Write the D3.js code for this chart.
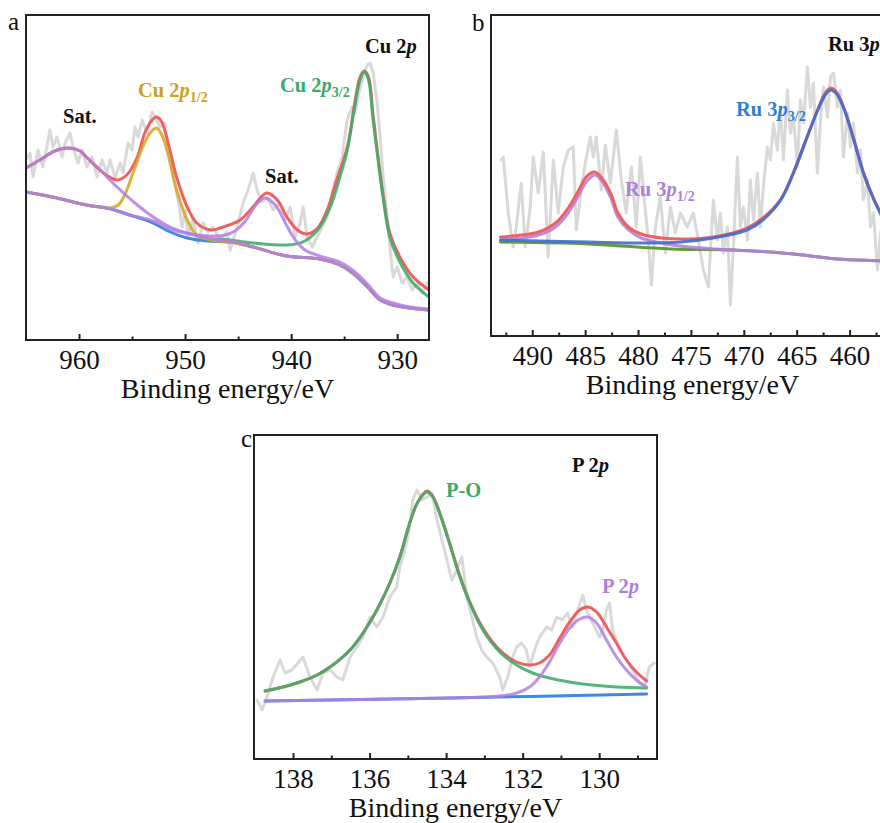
<!DOCTYPE html>
<html><head><meta charset="utf-8">
<script src="https://cdn.jsdelivr.net/npm/d3@7"></script>
<style>body{margin:0;background:#fff}</style>
</head><body>
<svg id="chart" width="880" height="823"></svg>
<script>
// ===== Panel a: Cu 2p  [binding energy (eV), intensity (a.u.)] =====
const cuRaw = [[965,180],[964.62,187],[964.34,163],[963.87,190],[963.4,173],[962.74,210],[962.45,193],[962.08,203],[961.6,183],[961.32,197],[960.85,207],[960.57,193],[960.09,177],[959.72,190],[959.25,173],[958.77,183],[958.3,163],[957.83,180],[957.36,167],[957.08,180],[956.6,162],[956.13,177],[955.85,167],[955.38,197],[955,190],[954.72,213],[954.43,203],[954.06,220],[953.58,207],[953.11,228],[952.83,223],[952.36,213],[951.89,217],[951.6,190],[951.13,163],[950.66,140],[950.28,113],[950,130],[949.72,103],[949.25,120],[948.77,97],[948.3,117],[947.83,108],[947.36,113],[946.7,100],[946.04,108],[945.75,90],[945.09,113],[944.53,137],[944.06,150],[943.58,167],[943.21,150],[942.74,138],[942.26,143],[941.7,130],[941.04,137],[940.57,120],[940.09,133],[939.62,103],[939.15,117],[938.87,133],[938.49,103],[938.02,93],[937.55,103],[937.08,113],[936.6,123],[936.13,147],[935.66,167],[935.19,183],[934.72,220],[934.25,233],[933.96,227],[933.68,243],[933.3,260],[932.83,275],[932.55,277],[932.26,267],[931.89,237],[931.6,203],[931.32,163],[930.94,123],[930.66,90],[930.38,63],[930,73],[929.53,57],[929.06,63],[928.58,50],[928.11,57],[927.64,47],[927.19,57],[927,52]];
const cuBackground = [[965,148],[962.5,143],[959.3,135],[957.4,132],[955.2,125],[953,117],[951.4,108],[949.8,102],[947.9,99],[945.8,98],[943.6,93],[940.4,84],[937.3,81],[935.4,75],[934.2,67],[932.8,53],[931.6,40],[930.4,35],[928.8,32],[927,30]];
const cuP12 = [[965,148],[962.5,143],[959.3,135],[958,133],[957.1,132],[956.3,135],[955.7,145],[954.9,167],[954,193],[953.3,207],[952.7,212],[952.1,203],[951.4,177],[950.8,150],[949.8,120],[948.9,105],[947.6,100],[945.8,98],[943.6,93],[940.4,84],[937.3,81],[935.4,75],[934.2,67],[932.8,53],[931.6,40],[930.4,35],[928.8,32],[927,30]];
const cuP32 = [[947.6,100],[946.7,101],[943.6,97],[940.4,95],[938.9,98],[937.5,110],[936.3,133],[935.4,163],[934.7,190],[934.1,227],[933.5,260],[933.1,268],[932.7,260],[932.3,223],[931.8,180],[931.3,140],[930.7,103],[929.7,77],[928.5,57],[927,43]];
const cuSatHigh = [[965,172],[963.7,180],[962.3,189],[961,192],[959.9,189],[959.3,183],[958.5,175],[957.7,167],[957,159],[956.1,150],[954.5,135],[953,123],[951.4,113],[949.8,107],[948.3,103],[946.7,100],[944.8,97],[943.6,93],[940.4,84],[937.3,81],[935.4,75],[934.2,67],[932.8,53],[931.6,40],[930.4,35],[928.8,32],[927,30]];
const cuSatLow = [[965,148],[962.5,143],[959.3,135],[957.4,132],[955.2,125],[953,119],[951.4,111],[949.5,106],[947.6,104],[946.2,105],[945.3,109],[944.3,119],[943.4,134],[942.5,142],[941.5,135],[940.4,114],[939.6,100],[938.7,90],[937.3,84],[935.4,78],[934.2,70],[932.8,56],[931.6,42],[930.4,37],[928.8,33],[927,31]];
const cuEnvelope = [[965,172],[963.7,180],[962.3,189],[961,192],[959.9,189],[959.3,183],[957.7,167],[956.4,160],[955.5,165],[954.5,183],[953.8,207],[953.1,220],[952.7,223],[952.2,218],[951.6,197],[950.8,163],[949.8,133],[948.9,117],[947.6,110],[946.7,112],[944.8,120],[943.6,133],[942.3,147],[941.3,140],[940.4,123],[939.4,110],[938.5,106],[937.5,112],[936.6,130],[935.7,160],[934.7,193],[934,237],[933.5,263],[933.1,269],[932.7,263],[932.3,227],[931.8,183],[931.3,143],[930.7,107],[929.7,82],[928.5,63],[927,50]];
const cuTicks = [960,950,940,930];
const cuMinorTicks = [955,945,935];

// ===== Panel b: Ru 3p =====
const ruRaw = [[492.93,176],[492.74,179],[492.27,123],[491.8,89],[491.51,109],[491.04,153],[490.66,89],[490.19,129],[489.91,179],[489.43,143],[488.96,184],[488.49,79],[488.01,176],[487.54,123],[487.07,169],[486.59,186],[486.12,189],[485.84,106],[485.36,146],[484.99,173],[484.51,199],[484.23,179],[483.95,199],[483.47,146],[483.09,191],[482.62,153],[482.05,206],[481.58,156],[481.11,123],[480.63,169],[480.16,109],[479.78,179],[479.31,126],[479.03,96],[478.74,51],[478.36,109],[477.89,139],[477.42,83],[476.94,129],[476.47,103],[476,123],[475.34,109],[474.77,123],[474.3,96],[473.82,66],[473.35,49],[472.88,136],[472.5,96],[472.21,123],[471.93,83],[471.55,109],[471.27,31],[470.98,89],[470.61,179],[470.32,109],[470.04,129],[469.66,96],[469.38,156],[469.09,116],[468.71,163],[468.43,109],[468.15,149],[467.77,189],[467.48,176],[467.2,213],[466.82,186],[466.54,229],[466.25,176],[465.88,246],[465.59,203],[465.31,219],[464.93,169],[464.65,236],[464.36,213],[463.98,269],[463.7,229],[463.42,253],[463.04,163],[462.75,216],[462.47,249],[462.09,219],[461.81,259],[461.52,263],[461.14,229],[460.86,246],[460.58,179],[460.2,223],[459.91,189],[459.63,213],[459.25,163],[458.97,186],[458.69,136],[458.31,156],[458.02,109],[457.74,123],[457.36,66],[457.08,103],[456.41,126],[455.75,96]];
const ruBackground = [[493,94],[484.7,92],[476.9,87],[471,86],[467.5,84],[464.4,81],[461.1,77],[457.1,75],[455.8,74]];
const ruP32 = [[493,96],[484.7,94],[479.8,93],[476,94],[472.9,98],[469.7,106],[468.2,116],[466.5,136],[465.3,163],[464,199],[463,226],[462.3,241],[461.8,246],[461.3,243],[460.6,229],[459.6,196],[458.7,163],[457.7,136],[457.1,123],[456.4,108],[455.8,99]];
const ruP12 = [[493,96],[491,98],[489.4,101],[487.8,109],[486.6,123],[485.7,139],[484.9,154],[484.1,161],[483.5,156],[482.6,139],[481.9,119],[480.9,106],[479.7,98],[477.8,93],[475.2,89],[471,86],[467.5,84],[464.4,81],[461.1,77],[457.1,75],[455.8,74]];
const ruEnvelope = [[493,99],[491,101],[489.4,104],[487.8,113],[486.6,128],[485.7,144],[484.9,159],[484.1,164],[483.5,159],[482.6,143],[481.9,123],[480.9,109],[479.7,102],[477.8,98],[475.2,97],[472.9,99],[469.7,108],[468.2,118],[466.5,137],[465.3,164],[464,200],[463,227],[462.3,243],[461.8,248],[461.3,245],[460.6,230],[459.6,197],[458.7,164],[457.7,137],[457.1,124],[456.4,109],[455.8,100]];
const ruTicks = [490,485,480,475,470,465,460];
const ruMinorTicks = [492.5,487.5,482.5,477.5,472.5,467.5,462.5,457.5];

// ===== Panel c: P 2p =====
const pRaw = [[138.94,59],[138.81,49],[138.68,62],[138.52,82],[138.34,99],[138.21,86],[138.03,89],[137.87,96],[137.74,102],[137.56,82],[137.37,69],[137.22,86],[137.03,89],[136.85,82],[136.7,79],[136.51,102],[136.33,112],[136.17,122],[135.99,142],[135.81,132],[135.65,142],[135.47,162],[135.29,172],[135.21,192],[135.13,202],[135,222],[134.87,259],[134.76,269],[134.63,259],[134.5,262],[134.37,266],[134.24,239],[134.11,219],[133.98,199],[133.85,179],[133.72,189],[133.59,202],[133.46,162],[133.33,142],[133.2,122],[133.07,109],[132.94,102],[132.78,96],[132.6,82],[132.52,69],[132.39,82],[132.26,102],[132.16,112],[132.03,116],[131.9,109],[131.82,92],[131.69,109],[131.56,122],[131.37,132],[131.24,129],[131.11,142],[130.96,139],[130.83,146],[130.7,132],[130.56,149],[130.43,164],[130.33,149],[130.25,142],[130.12,132],[129.99,122],[129.91,129],[129.81,149],[129.73,156],[129.65,129],[129.47,109],[129.29,99],[129.13,89],[128.95,76],[128.82,72],[128.69,92],[128.56,96]];
const pBackground = [[138.73,58],[133.9,61],[128.76,65]];
const pPO = [[138.73,68],[138.26,72],[137.82,77],[137.37,84],[136.96,94],[136.51,109],[136.17,126],[135.81,149],[135.47,176],[135.21,202],[134.95,236],[134.74,257],[134.5,267],[134.35,262],[134.11,239],[133.9,214],[133.64,182],[133.38,156],[133.04,129],[132.6,107],[132.16,94],[131.74,86],[131.3,81],[130.43,75],[129.55,72],[128.76,71]];
const pP2p = [[138.73,58],[133.9,61],[132.6,63],[132.16,66],[131.82,72],[131.56,82],[131.3,97],[131.03,116],[130.77,131],[130.51,140],[130.3,142],[130.07,136],[129.81,119],[129.55,102],[129.29,89],[129.03,79],[128.76,72]];
const pEnvelope = [[138.73,68],[138.26,72],[137.82,77],[137.37,84],[136.96,94],[136.51,109],[136.17,126],[135.81,149],[135.47,176],[135.21,202],[134.95,236],[134.74,257],[134.5,268],[134.35,263],[134.11,240],[133.9,215],[133.64,183],[133.38,157],[133.04,131],[132.6,109],[132.16,97],[131.82,94],[131.56,96],[131.3,104],[131.03,121],[130.77,137],[130.51,149],[130.3,152],[130.07,147],[129.81,132],[129.55,116],[129.29,99],[129.03,87],[128.76,78]];
const pTicks = [138,136,134,132,130];
const pMinorTicks = [137,135,133,131,129];

const axisTitle = "Binding energy/eV";

// ===== drawing =====
const svg = d3.select("#chart");
const serif = '"Liberation Serif","Times New Roman",Times,serif';
const C = {raw:"#d9d9d9", red:"#f0605f", green:"#44ad6a", gold:"#d6a626", purple:"#b37fe0", blue:"#3d8ae0", olive:"#679a34"};

function drawPanel(p) {
  const x = d3.scaleLinear().domain(p.xDomain).range([p.left, p.right]);
  const y = d3.scaleLinear().domain([0, p.yMax]).range([p.bottom, p.top]);
  const g = svg.append("g");
  g.append("clipPath").attr("id", "clip-" + p.id).append("rect")
    .attr("x", p.left).attr("y", p.top).attr("width", p.right - p.left).attr("height", p.bottom - p.top);
  const plot = g.append("g").attr("clip-path", `url(#clip-${p.id})`);
  p.series.forEach(s => {
    const line = d3.line().x(d => x(d[0])).y(d => y(d[1]))
      .curve(s.raw ? d3.curveLinear : d3.curveCatmullRom.alpha(0.5));
    plot.append("path").datum(s.data)
      .attr("fill", "none").attr("stroke", s.color).attr("stroke-width", s.w || 3)
      .attr("stroke-opacity", s.op == null ? 1 : s.op)
      .attr("stroke-linejoin", "round").attr("stroke-linecap", "round")
      .attr("d", line);
  });
  g.append("rect").attr("x", p.left).attr("y", p.top)
    .attr("width", p.right - p.left).attr("height", p.bottom - p.top)
    .attr("fill", "none").attr("stroke", "#222").attr("stroke-width", 2);
  const major = g.append("g").attr("transform", `translate(0,${p.bottom})`)
    .call(d3.axisBottom(x).tickValues(p.ticks).tickSize(-6).tickPadding(10).tickFormat(d3.format("d")));
  const minor = g.append("g").attr("transform", `translate(0,${p.bottom})`)
    .call(d3.axisBottom(x).tickValues(p.minor).tickSize(-3.5).tickFormat(""));
  [major, minor].forEach(a => {
    a.select(".domain").remove();
    a.selectAll("line").attr("stroke", "#222").attr("stroke-width", 2);
  });
  major.selectAll("text").attr("font-family", serif).attr("font-size", 27).attr("fill", "#111");
  g.append("text").attr("x", (p.left + p.right) / 2).attr("y", p.bottom + 58)
    .attr("text-anchor", "middle").attr("font-family", serif).attr("font-size", 28).attr("fill", "#111")
    .text(axisTitle);
  g.append("text").attr("x", p.letterX).attr("y", p.letterY)
    .attr("font-family", serif).attr("font-size", 25).attr("fill", "#111").text(p.letter);
  p.labels.forEach(l => {
    const t = g.append("text").attr("x", l.x).attr("y", l.y)
      .attr("font-family", serif).attr("font-weight", "bold").attr("font-size", 20.5).attr("fill", l.color);
    t.append("tspan").text(l.main);
    if (l.ital) t.append("tspan").attr("font-style", "italic").text(l.ital);
    if (l.sub) t.append("tspan").attr("font-size", 14).attr("dy", 5).text(l.sub);
  });
}

drawPanel({
  id: "a", left: 26, right: 429, top: 15, bottom: 340, xDomain: [965, 927], yMax: 325,
  ticks: cuTicks, minor: cuMinorTicks, letter: "a", letterX: 8, letterY: 30,
  series: [
    {data: cuRaw, color: C.raw, raw: true},
    {data: cuBackground, color: C.blue},
    {data: cuEnvelope, color: C.red},
    {data: cuP32, color: C.green, op: 0.9},
    {data: cuP12, color: C.gold, op: 0.88},
    {data: cuSatHigh, color: C.purple, op: 0.85},
    {data: cuSatLow, color: C.purple, op: 0.85}
  ],
  labels: [
    {x: 365, y: 53, color: "#111", main: "Cu 2", ital: "p"},
    {x: 138, y: 97, color: "#d1a020", main: "Cu 2", ital: "p", sub: "1/2"},
    {x: 280, y: 92, color: "#3aaa6c", main: "Cu 2", ital: "p", sub: "3/2"},
    {x: 63, y: 123, color: "#111", main: "Sat."},
    {x: 265, y: 183, color: "#111", main: "Sat."}
  ]
});

drawPanel({
  id: "b", left: 491, right: 894, top: 15, bottom: 336, xDomain: [493.9, 455.8], yMax: 321,
  ticks: ruTicks, minor: ruMinorTicks, letter: "b", letterX: 472, letterY: 31,
  series: [
    {data: ruRaw, color: C.raw, raw: true},
    {data: ruBackground, color: C.olive},
    {data: ruP12, color: C.purple, op: 0.9},
    {data: ruEnvelope, color: C.red},
    {data: ruP32, color: "#3f6fd0", op: 0.92}
  ],
  labels: [
    {x: 828, y: 51, color: "#111", main: "Ru 3", ital: "p"},
    {x: 736, y: 116, color: "#2f7fd8", main: "Ru 3", ital: "p", sub: "3/2"},
    {x: 625, y: 196, color: "#b07fdc", main: "Ru 3", ital: "p", sub: "1/2"}
  ]
});

drawPanel({
  id: "c", left: 254, right: 657, top: 435, bottom: 759, xDomain: [139.02, 128.49], yMax: 324,
  ticks: pTicks, minor: pMinorTicks, letter: "c", letterX: 241, letterY: 447,
  series: [
    {data: pRaw, color: C.raw, raw: true},
    {data: pBackground, color: C.blue},
    {data: pEnvelope, color: C.red},
    {data: pPO, color: C.green, op: 0.9},
    {data: pP2p, color: C.purple, op: 0.85}
  ],
  labels: [
    {x: 572, y: 472, color: "#111", main: "P 2", ital: "p"},
    {x: 446, y: 497, color: "#3aaa6c", main: "P-O"},
    {x: 602, y: 593, color: "#b07fdc", main: "P 2", ital: "p"}
  ]
});
</script>
</body></html>
